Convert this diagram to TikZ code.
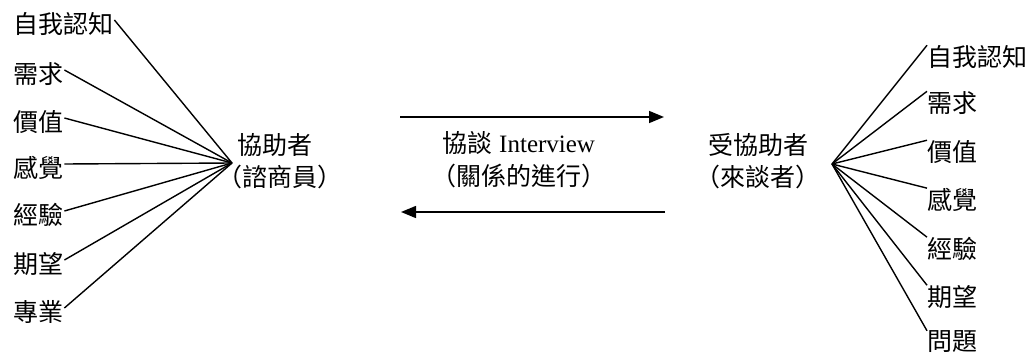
\documentclass[tikz,border=0pt]{standalone}
\usepackage{fontspec}
\setmainfont{Liberation Serif}
\newfontfamily\cjk{Noto Sans CJK TC}
\usetikzlibrary{arrows.meta,calc}
\begin{document}
\begin{tikzpicture}[x=1pt,y=-1pt,
  lbl/.style={inner sep=0pt,font=\fontsize{25}{30}\selectfont\cjk},
  mid/.style={inner sep=0pt,font=\fontsize{25}{30}\selectfont\cjk,align=center},
  spoke/.style={line width=1.4pt},
  flow/.style={line width=1.5pt,-{Triangle[length=15pt,width=12pt]}}]
\useasboundingbox (0,0) rectangle (1035,356);
% hubs
\coordinate (L) at (232,163);
\coordinate (R) at (832,164);
% left labels
\node[lbl,anchor=west] (l1) at (13,24) {自我認知};
\node[lbl,anchor=west] (l2) at (13,74) {需求};
\node[lbl,anchor=west] (l3) at (13,122) {價值};
\node[lbl,anchor=west] (l4) at (13,168) {感覺};
\node[lbl,anchor=west] (l5) at (13,215) {經驗};
\node[lbl,anchor=west] (l6) at (13,264) {期望};
\node[lbl,anchor=west] (l7) at (13,312) {專業};
\foreach \i in {1,...,7}{\draw[spoke] ($(l\i.east)+(1,-4)$) -- (L);}
% right labels
\node[lbl,anchor=west] (r1) at (927,57) {自我認知};
\node[lbl,anchor=west] (r2) at (927,103) {需求};
\node[lbl,anchor=west] (r3) at (927,152) {價值};
\node[lbl,anchor=west] (r4) at (927,200) {感覺};
\node[lbl,anchor=west] (r5) at (927,249) {經驗};
\node[lbl,anchor=west] (r6) at (927,297) {期望};
\node[lbl,anchor=west] (r7) at (927,342) {問題};
\foreach \i in {1,...,7}{\draw[spoke] (R) -- (r\i.north west);}
% centre texts
\node[mid] (h1) at (275,145) {協助者};
\node[mid] (h2) at (280,177) {（諮商員）};
\node[mid] (m1) at (519,143) {協談{\rmfamily\ Interview}};
\node[mid] (m2) at (519,176) {（關係的進行）};
\node[mid] (c1) at (758,145) {受協助者};
\node[mid] (c2) at (758,177) {（來談者）};
% arrows
\coordinate (a1) at (400,117);
\coordinate (a2) at (664,117);
\coordinate (b1) at (665,212);
\coordinate (b2) at (401,212);
\draw[flow] (a1) -- (a2);
\draw[flow] (b1) -- (b2);
\end{tikzpicture}
\end{document}
